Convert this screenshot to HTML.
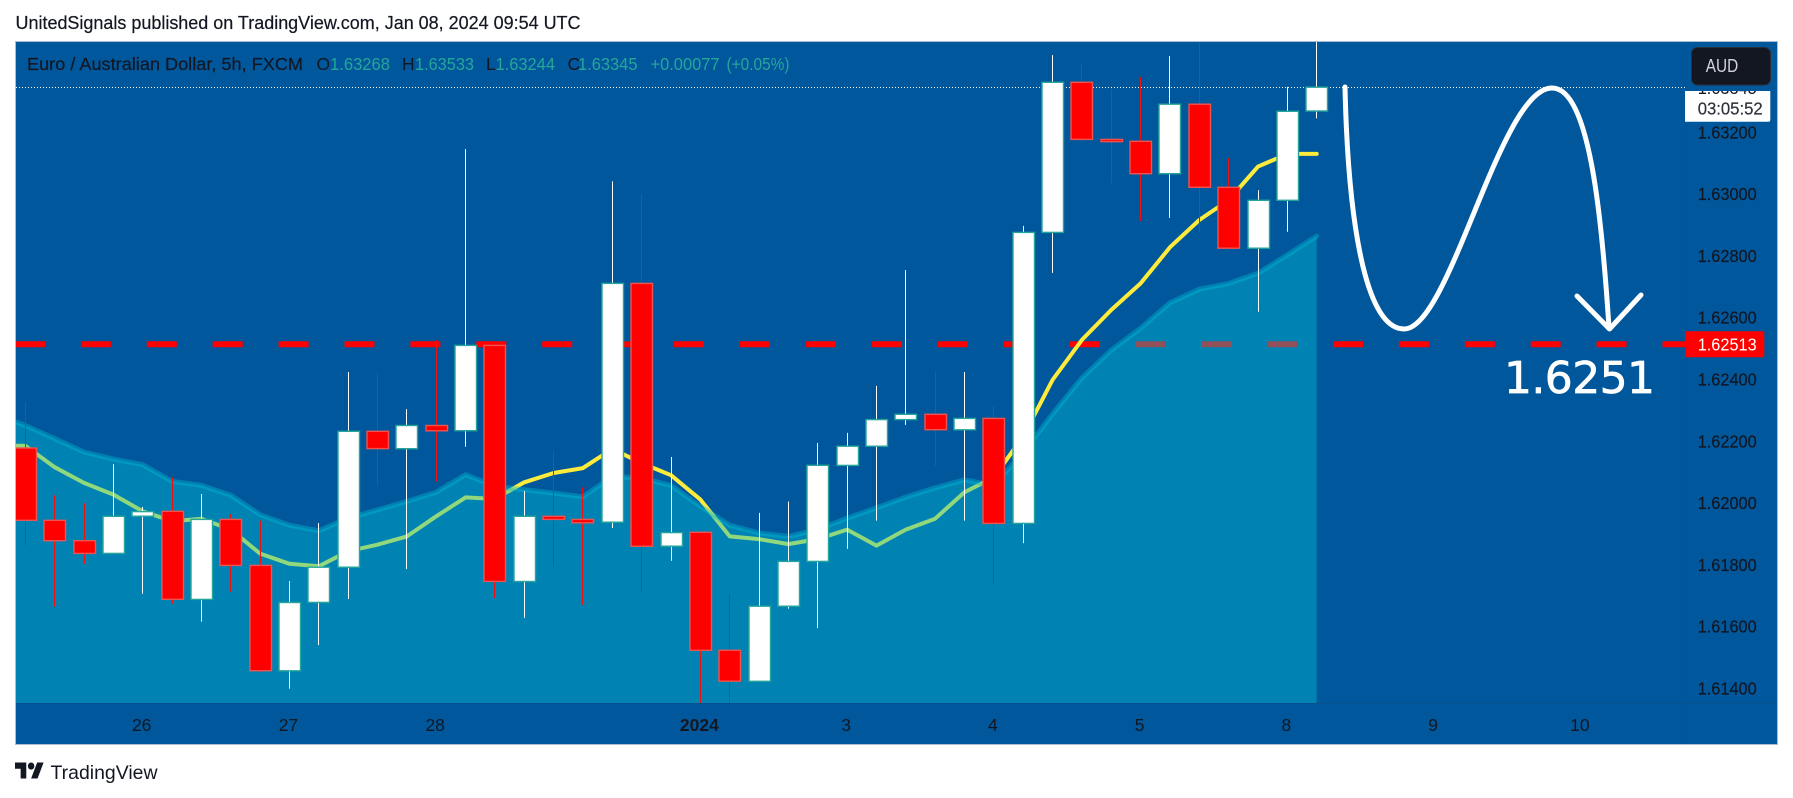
<!DOCTYPE html>
<html lang="en">
<head>
<meta charset="utf-8">
<title>EUR/AUD 5h chart</title>
<style>
html,body{margin:0;padding:0;background:#fff;width:1793px;height:798px;overflow:hidden}
svg{display:block}
text{font-family:"Liberation Sans",sans-serif}
</style>
</head>
<body>
<svg id="chart" xmlns="http://www.w3.org/2000/svg" width="1793" height="798" viewBox="0 0 1793 798">
  <defs>
    <clipPath id="plot-clip"><rect x="16" y="42" width="1669" height="661"/></clipPath>
    <clipPath id="label-clip"><rect x="1685" y="91" width="86" height="31"/></clipPath>
  </defs>
  <rect x="0" y="0" width="1793" height="798" fill="#ffffff"/>
  <text x="15.5" y="29" font-size="18" fill="#131722" stroke="#131722" stroke-width="0.2" textLength="565" lengthAdjust="spacingAndGlyphs">UnitedSignals published on TradingView.com, Jan 08, 2024 09:54 UTC</text>

  <rect x="15.5" y="41.5" width="1762" height="703" fill="#01579b" stroke="#aebdd2" stroke-width="1"/>
  <line x1="16" y1="703.5" x2="1777" y2="703.5" stroke="#0a4f8e" stroke-width="1"/>
  <line x1="1685.5" y1="42" x2="1685.5" y2="744" stroke="#0a4f8e" stroke-width="1"/>

  <g id="plot" clip-path="url(#plot-clip)"></g>

  <g fill="none" stroke="#ffffff" stroke-width="5" stroke-linecap="round" stroke-linejoin="round">
    <path d="M1345 87C1348 220 1365 329 1404 329C1450 329 1500 88 1552 88C1590 88 1602 220 1609 328"/>
    <path d="M1577 296L1609.5 329L1641 295"/>
  </g>
  <text x="1504" y="393" font-size="44" fill="#ffffff" stroke="#ffffff" stroke-width="0.7" textLength="151" lengthAdjust="spacing" style="font-family:'DejaVu Sans',sans-serif">1.6251</text>

  <g font-size="17.5">
    <text x="27" y="70" fill="#131722" stroke="#131722" stroke-width="0.2" textLength="276" lengthAdjust="spacingAndGlyphs">Euro / Australian Dollar, 5h, FXCM</text>
    <text x="316.5" y="70" fill="#131722">O</text>
    <text x="330" y="70" fill="#26a69a" textLength="60" lengthAdjust="spacingAndGlyphs">1.63268</text>
    <text x="402" y="70" fill="#131722">H</text>
    <text x="415" y="70" fill="#26a69a" textLength="59" lengthAdjust="spacingAndGlyphs">1.63533</text>
    <text x="486" y="70" fill="#131722">L</text>
    <text x="495.5" y="70" fill="#26a69a" textLength="59.5" lengthAdjust="spacingAndGlyphs">1.63244</text>
    <text x="567.5" y="70" fill="#131722">C</text>
    <text x="578" y="70" fill="#26a69a" textLength="59.5" lengthAdjust="spacingAndGlyphs">1.63345</text>
    <text x="650.5" y="70" fill="#26a69a" textLength="69" lengthAdjust="spacingAndGlyphs">+0.00077</text>
    <text x="726.5" y="70" fill="#26a69a" textLength="63" lengthAdjust="spacingAndGlyphs">(+0.05%)</text>
  </g>

  <g id="price-axis"></g>
  <g id="time-axis"></g>

  <g>
    <path d="M1685 91H1770.3V119.7a2 2 0 0 1-2 2H1685Z" fill="#ffffff"/>
    <text x="1697.7" y="94" font-size="17.5" fill="#131722" textLength="59" lengthAdjust="spacingAndGlyphs" clip-path="url(#label-clip)">1.63345</text>
    <text x="1697.7" y="114.5" font-size="17.5" fill="#2f3239" stroke="#2f3239" stroke-width="0.2" textLength="65" lengthAdjust="spacingAndGlyphs">03:05:52</text>
  </g>
  <g>
    <path d="M1685 331.3H1762.3a2 2 0 0 1 2 2V355.3a2 2 0 0 1-2 2H1685Z" fill="#ff0000"/>
    <text x="1697.7" y="350.3" font-size="17.5" fill="#ffffff" textLength="59" lengthAdjust="spacingAndGlyphs">1.62513</text>
  </g>
  <g>
    <rect x="1691.5" y="47.5" width="79" height="37.5" rx="6" fill="#131722" stroke="#2a2e39" stroke-width="1"/>
    <text x="1705.7" y="72" font-size="18" fill="#d1d4dc" textLength="32.5" lengthAdjust="spacingAndGlyphs">AUD</text>
  </g>

  <g>
    <svg x="15" y="762.5" width="29" height="16" viewBox="0 4 36 18" preserveAspectRatio="none">
      <path d="M14 22H7V11H0V4h14v18zM28 22h-8l7.5-18h8L28 22z" fill="#131722"/>
      <circle cx="20" cy="8" r="4" fill="#131722"/>
    </svg>
    <text x="50.5" y="779" font-size="19.5" fill="#131722" textLength="107" lengthAdjust="spacingAndGlyphs">TradingView</text>
  </g>
</svg>
<script>
const opens = [1.62177,1.61943,1.61877,1.61836,1.61956,1.61972,1.61687,1.61946,1.61797,1.61456,1.61677,1.61791,1.62231,1.62175,1.62250,1.62233,1.62509,1.61745,1.61956,1.61946,1.61937,1.62710,1.61859,1.61904,1.61522,1.61422,1.61665,1.61810,1.62121,1.62183,1.62269,1.62286,1.62236,1.62273,1.61933,1.62875,1.63361,1.63176,1.63170,1.63065,1.63290,1.63021,1.62824,1.62979,1.63268];
const highs = [1.62326,1.62024,1.61998,1.62125,1.61986,1.62082,1.62028,1.61963,1.61942,1.61746,1.61934,1.62423,1.62419,1.62303,1.62527,1.63145,1.62511,1.62038,1.62166,1.62050,1.63040,1.62999,1.62148,1.61906,1.61704,1.61967,1.62004,1.62193,1.62226,1.62378,1.62753,1.62426,1.62423,1.62313,1.62896,1.63449,1.63420,1.63339,1.63378,1.63446,1.63530,1.63116,1.63012,1.63346,1.63533];
const lows = [1.61862,1.61663,1.61802,1.61836,1.61705,1.61673,1.61615,1.61712,1.61452,1.61398,1.61539,1.61688,1.62057,1.61785,1.62069,1.62181,1.61691,1.61627,1.61792,1.61669,1.61918,1.61708,1.61812,1.61345,1.61345,1.61422,1.61657,1.61594,1.61851,1.61942,1.62252,1.62120,1.61942,1.61734,1.61869,1.62744,1.63169,1.63033,1.62912,1.62922,1.62874,1.62824,1.62618,1.62877,1.63244];
const closes = [1.61943,1.61877,1.61836,1.61956,1.61971,1.61687,1.61946,1.61797,1.61456,1.61677,1.61791,1.62231,1.62175,1.62250,1.62233,1.62509,1.61745,1.61956,1.61946,1.61935,1.62710,1.61859,1.61903,1.61522,1.61422,1.61665,1.61810,1.62121,1.62183,1.62269,1.62286,1.62236,1.62273,1.61933,1.62875,1.63361,1.63176,1.63169,1.63065,1.63290,1.63021,1.62824,1.62979,1.63267,1.63345];
const fastAverage = [1.62184,1.62184,1.62115,1.62064,1.62026,1.61972,1.61940,1.61948,1.61913,1.61835,1.61802,1.61794,1.61843,1.61864,1.61891,1.61956,1.62017,1.62012,1.62066,1.62096,1.62112,1.62174,1.62128,1.62089,1.62010,1.61891,1.61882,1.61866,1.61882,1.61913,1.61861,1.61913,1.61948,1.62034,1.62082,1.62215,1.62397,1.62527,1.62624,1.62710,1.62827,1.62915,1.62980,1.63088,1.63129,1.63129];
const slowAverage = [1.62285,1.62250,1.62207,1.62164,1.62141,1.62123,1.62069,1.62056,1.62024,1.61961,1.61927,1.61909,1.61950,1.61977,1.62004,1.62034,1.62091,1.62053,1.62042,1.62031,1.62019,1.62085,1.62080,1.62056,1.61988,1.61927,1.61902,1.61891,1.61913,1.61950,1.61983,1.62018,1.62048,1.62074,1.62056,1.62161,1.62287,1.62404,1.62494,1.62565,1.62647,1.62691,1.62710,1.62743,1.62802,1.62863];
const priceTicks = [1.632,1.630,1.628,1.626,1.624,1.622,1.620,1.618,1.616,1.614];
const timeLabels = ['26','27','28','2024','3','4','5','8','9','10'];
const timeBars = [4,9,14,23,28,33,38,43,48,53];
const targetPrice = 1.62513;

const NS = 'http://www.w3.org/2000/svg';
const plot = document.getElementById('plot');
const priceAxis = document.getElementById('price-axis');
const timeAxis = document.getElementById('time-axis');
const xScale = i => 25.3 + i * 29.35;
const yScale = p => 132 + (1.632 - p) * 30890;

function make(tag, attrs, parent) {
  const node = document.createElementNS(NS, tag);
  for (const k in attrs) node.setAttribute(k, attrs[k]);
  parent.appendChild(node);
  return node;
}

const lastClose = closes[closes.length - 1];
const lastLine = make('line', {x1: 16, x2: 1685, y1: Math.round(yScale(lastClose)) + 0.5, y2: Math.round(yScale(lastClose)) + 0.5, stroke: '#ffffff', 'stroke-width': 1, 'stroke-dasharray': '1 2'}, plot);



const targetLine = make('line', {x1: 15, x2: 1685, y1: yScale(targetPrice), y2: yScale(targetPrice), stroke: '#ff0000', 'stroke-width': 6, 'stroke-dasharray': '30 35.9'}, plot);



const fastPts = fastAverage.map((v, i) => xScale(i - 1).toFixed(1) + ',' + yScale(v).toFixed(1)).join(' ');
const fastLine = make('polyline', {points: fastPts, fill: 'none', stroke: '#ffeb3b', 'stroke-width': 4, 'stroke-linecap': 'round', 'stroke-linejoin': 'round'}, plot);



const slowPts = slowAverage.map((v, i) => xScale(i - 1).toFixed(1) + ',' + yScale(v).toFixed(1));
const lastX = xScale(slowAverage.length - 2).toFixed(1);
const slowFill = make('polygon', {points: slowPts.join(' ') + ' ' + lastX + ',703 ' + xScale(-1).toFixed(1) + ',703', fill: '#00bcd4', 'fill-opacity': 0.43}, plot);


const slowLine = make('polyline', {points: slowPts.join(' '), fill: 'none', stroke: '#00bcd4', 'stroke-opacity': 0.4, 'stroke-width': 5, 'stroke-linecap': 'round', 'stroke-linejoin': 'round'}, plot);



opens.forEach((open, i) => {
  const close = closes[i];
  const up = close >= open;
  const cx = xScale(i);
  const wx = Math.round(cx - 0.5) + 0.5;
  const g = make('g', {}, plot);
  
  
  const wick = make('line', {x1: wx, x2: wx, y1: yScale(highs[i]), y2: yScale(lows[i]), stroke: up ? '#ffffff' : '#f01010', 'stroke-width': 1}, g);
  
  
  const top = yScale(Math.max(open, close));
  const bottom = yScale(Math.min(open, close));
  const body = make('rect', {x: wx - 10.5, y: top.toFixed(1), width: 21.5, height: Math.max(bottom - top, 1.5).toFixed(1), fill: up ? '#ffffff' : '#ff0000', stroke: up ? '#26a69a' : '#ef5350', 'stroke-width': 1.4}, g);
  
  
});

priceTicks.forEach(p => {
  const t = make('text', {x: 1697.7, y: (yScale(p) + 6.4).toFixed(1), 'font-size': 17.5, fill: '#131722', stroke: '#131722', 'stroke-width': 0.2, textLength: 59, lengthAdjust: 'spacingAndGlyphs'}, priceAxis);
  
  
  t.textContent = p.toFixed(5);
});

timeLabels.forEach((label, i) => {
  const t = make('text', {x: xScale(timeBars[i]) - 1, y: 731, 'font-size': 17.5, fill: '#131722', 'text-anchor': 'middle', 'font-weight': label === '2024' ? 'bold' : 'normal'}, timeAxis);
  
  
  t.textContent = label;
});
</script>
</body>
</html>
